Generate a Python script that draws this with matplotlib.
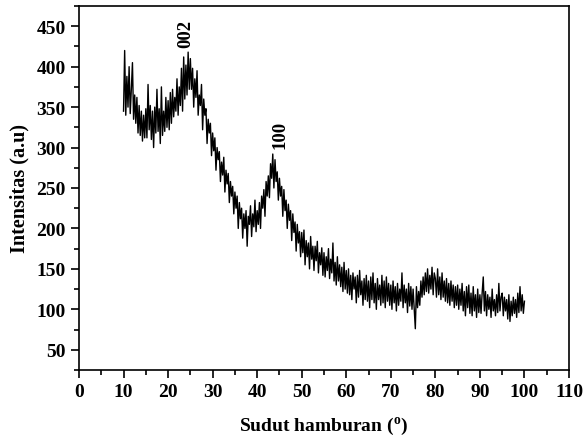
import numpy as np
import matplotlib
matplotlib.use("Agg")
import matplotlib.pyplot as plt
from matplotlib.ticker import MultipleLocator

plt.rcParams['font.family'] = ['Liberation Serif', 'DejaVu Serif']
plt.rcParams['font.weight'] = 'bold'
plt.rcParams['mathtext.fontset'] = 'custom'
plt.rcParams['mathtext.bf'] = 'Liberation Serif:bold'
plt.rcParams['mathtext.rm'] = 'Liberation Serif:bold'

# scattering angle 2theta, 10..100 deg in 0.25 steps
sudut = np.arange(10.0, 100.01, 0.25)

# intensity, one row = 5 degrees
intensitas = [
    345, 420, 340, 388, 350, 400, 342, 372, 405, 335, 365, 330, 362, 318, 352, 315, 345, 308, 340, 312,
    348, 312, 378, 322, 352, 310, 345, 300, 350, 318, 372, 320, 348, 305, 375, 315, 345, 320, 362, 325,
    358, 322, 368, 330, 372, 338, 362, 345, 385, 340, 375, 352, 398, 345, 412, 360, 402, 365, 418, 372,
    410, 372, 398, 350, 385, 362, 395, 340, 365, 352, 378, 322, 360, 340, 348, 305, 335, 318, 330, 290,
    318, 296, 312, 272, 300, 285, 295, 258, 282, 266, 288, 245, 272, 255, 268, 232, 258, 240, 252, 218,
    245, 225, 240, 200, 232, 212, 225, 188, 218, 200, 222, 178, 215, 205, 228, 190, 218, 202, 235, 196,
    222, 205, 232, 200, 240, 225, 248, 215, 258, 240, 265, 238, 280, 262, 292, 250, 285, 258, 270, 235,
    262, 240, 252, 215, 248, 222, 235, 200, 230, 210, 222, 185, 218, 195, 208, 172, 205, 182, 196, 165,
    195, 170, 198, 155, 185, 165, 182, 150, 190, 162, 178, 148, 178, 160, 184, 145, 170, 155, 176, 142,
    170, 140, 165, 148, 175, 138, 162, 145, 182, 135, 158, 130, 165, 135, 155, 128, 152, 122, 158, 125,
    148, 120, 150, 118, 142, 112, 145, 125, 140, 108, 142, 115, 148, 118, 135, 105, 138, 112, 142, 110,
    135, 102, 140, 112, 145, 108, 132, 100, 138, 112, 130, 105, 142, 108, 135, 102, 140, 110, 132, 105,
    130, 100, 135, 108, 128, 98, 132, 105, 125, 110, 145, 102, 130, 108, 125, 96, 132, 104, 128, 100,
    125, 100, 76, 128, 102, 122, 105, 135, 115, 140, 118, 145, 122, 150, 120, 142, 125, 152, 118, 145,
    138, 115, 150, 118, 140, 112, 145, 115, 135, 110, 138, 108, 132, 105, 135, 110, 130, 102, 128, 105,
    130, 100, 125, 105, 132, 98, 122, 92, 128, 102, 130, 95, 120, 92, 128, 98, 118, 90, 125, 96,
    118, 95, 120, 140, 98, 122, 92, 118, 100, 115, 90, 125, 98, 112, 92, 118, 96, 132, 98, 115,
    120, 92, 115, 98, 112, 88, 118, 85, 110, 92, 115, 95, 112, 90, 120, 96, 128, 98, 118, 95,
    110,
]

puncak_label = ['002', '100']
puncak_x = [23.9, 45.1]
puncak_y = [424, 300]

fig = plt.figure(figsize=(5.83, 4.39), dpi=100)
ax = fig.add_axes([0.1355, 0.155, 0.8405, 0.829])

ax.plot(sudut, intensitas, color='black', lw=1.0)

for lab, px, py in zip(puncak_label, puncak_x, puncak_y):
    ax.text(px, py, lab, rotation=90, ha='center', va='bottom',
            fontsize=13.5, fontweight='bold')

ax.set_xlim(0, 110)
ax.set_ylim(25, 475)
ax.xaxis.set_major_locator(MultipleLocator(10))
ax.xaxis.set_minor_locator(MultipleLocator(5))
ax.yaxis.set_major_locator(MultipleLocator(50))
ax.yaxis.set_minor_locator(MultipleLocator(25))
ax.set_yticks(np.arange(50, 451, 50))
ax.tick_params(which='major', direction='out', length=6, width=1.2, labelsize=14)
ax.tick_params(which='minor', direction='out', length=3.5, width=1.2)
for s in ax.spines.values():
    s.set_linewidth(1.2)

ax.set_xlabel(r'Sudut hamburan ($^{\mathbf{o}}$)', fontsize=14, fontweight='bold', labelpad=10)
ax.set_ylabel('Intensitas (a.u)', fontsize=14.5, fontweight='bold', labelpad=5)

fig.savefig('out.png', dpi=100)
